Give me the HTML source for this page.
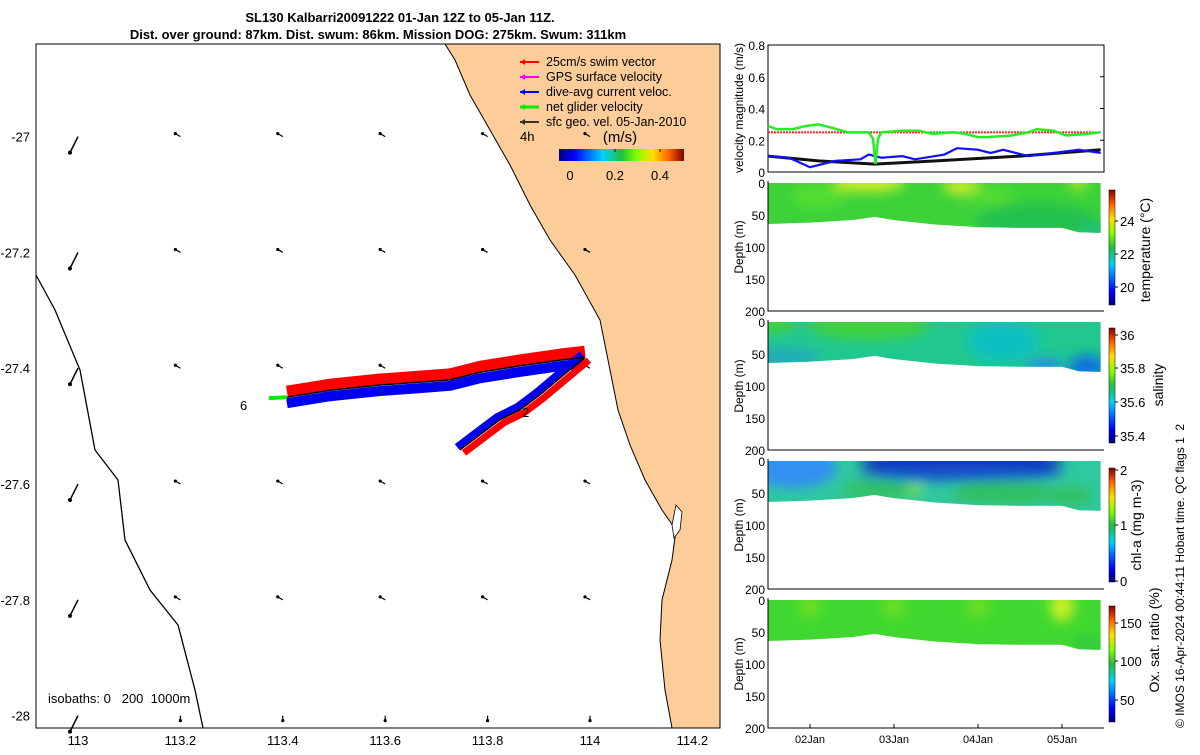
<!DOCTYPE html>
<html><head><meta charset="utf-8"><style>
body{margin:0;background:#fff;}
svg{font-family:"Liberation Sans","DejaVu Sans",sans-serif;}
</style></head><body>
<svg id="s" width="1200" height="750" viewBox="0 0 1200 750" xmlns="http://www.w3.org/2000/svg">
<defs>
<linearGradient id="jet" x1="0" y1="1" x2="0" y2="0">
<stop offset="0" stop-color="#00007f"/><stop offset="0.12" stop-color="#0000ff"/><stop offset="0.35" stop-color="#00d0ff"/><stop offset="0.5" stop-color="#20c040"/><stop offset="0.62" stop-color="#80ff00"/><stop offset="0.75" stop-color="#ffe000"/><stop offset="0.88" stop-color="#ff6000"/><stop offset="1" stop-color="#800000"/>
</linearGradient>
<linearGradient id="jeth" x1="0" y1="0" x2="1" y2="0">
<stop offset="0" stop-color="#00007f"/><stop offset="0.12" stop-color="#0000ff"/><stop offset="0.35" stop-color="#00d0ff"/><stop offset="0.5" stop-color="#20c040"/><stop offset="0.62" stop-color="#80ff00"/><stop offset="0.75" stop-color="#ffe000"/><stop offset="0.88" stop-color="#ff6000"/><stop offset="1" stop-color="#800000"/>
</linearGradient>
<filter id="blur"><feGaussianBlur stdDeviation="6"/></filter>
</defs>
<g id="map"></g>
<g id="vel"></g>
<g id="sec"></g>
<text x="400" y="22" font-size="13" font-weight="bold" text-anchor="middle">SL130 Kalbarri20091222 01-Jan 12Z to 05-Jan 11Z.</text>
<text x="378" y="39" font-size="13" font-weight="bold" text-anchor="middle">Dist. over ground: 87km. Dist. swum: 86km. Mission DOG: 275km. Swum: 311km</text>
</svg>
<script>
// ---- map data ----
const lonTicks=[113,113.2,113.4,113.6,113.8,114,114.2];
const latTicks=[-27,-27.2,-27.4,-27.6,-27.8,-28];
const trackLon=[113.408,113.492,113.590,113.668,113.727,113.785,113.863,113.941,113.990];
const trackLat=[-27.450,-27.438,-27.429,-27.424,-27.420,-27.407,-27.396,-27.386,-27.381];
const returnLon=[113.990,113.941,113.902,113.863,113.824,113.785,113.746];
const returnLat=[-27.381,-27.417,-27.446,-27.472,-27.489,-27.515,-27.541];
// ---- velocity data (days since 01-Jan 12Z) ----
const netT=[0,0.1,0.3,0.45,0.6,0.75,0.95,1.2,1.25,1.28,1.31,1.35,1.6,1.8,1.95,2.2,2.35,2.5,2.6,2.9,3.1,3.2,3.4,3.55,3.8,3.96];
const netV=[0.29,0.27,0.27,0.29,0.30,0.28,0.25,0.25,0.21,0.05,0.21,0.25,0.26,0.26,0.24,0.25,0.24,0.22,0.22,0.23,0.25,0.27,0.26,0.23,0.24,0.25];
const curT=[0,0.25,0.5,0.8,1.1,1.2,1.35,1.6,1.75,2.1,2.25,2.5,2.65,2.8,3.1,3.4,3.7,3.96];
const curV=[0.10,0.09,0.03,0.07,0.08,0.11,0.09,0.10,0.08,0.11,0.15,0.14,0.12,0.14,0.10,0.12,0.14,0.12];
const geoT=[0,0.6,1.27,2,3,3.96];
const geoV=[0.10,0.07,0.05,0.07,0.10,0.14];
const swimV=0.25;
const velTicks=[0,0.2,0.4,0.6,0.8];
// ---- sections ----
const dayTicks=[0.5,1.5,2.5,3.5];
const dayLabels=["02Jan","03Jan","04Jan","05Jan"];
const depthTicks=[0,50,100,150,200];
const profT=[0,0.5,1,1.27,1.5,2,2.5,3,3.5,3.7,3.96];
const profD=[64,62,58,53,58,65,69,70,70,77,78];

const NS="http://www.w3.org/2000/svg";
function mk(p,tag,a,txt){const e=document.createElementNS(NS,tag);for(const k in a)e.setAttribute(k,a[k]);if(txt!==undefined)e.textContent=txt;p.appendChild(e);return e;}
const lonX=l=>36+(l-112.918)*512, latY=l=>44+(-26.84-l)*579;
const map=document.getElementById('map');
let land=mk(map,'path',{d:"M445,44 L455,60 L470,95 L490,130 L510,165 L530,205 L550,240 L575,275 L600,320 L610,370 L618,410 L630,445 L645,480 L662,510 L676,530 L672,560 L662,600 L660,640 L665,690 L672,728 L720,728 L720,44 Z",fill:"#fccc99",stroke:"#000","stroke-width":1});


let isl=mk(map,'path',{d:"M676,505 L682,512 L680,530 L674,538 L672,525 Z",fill:"#fff",stroke:"#000","stroke-width":0.8});


let iso=mk(map,'polyline',{points:"36,275 55,310 80,370 95,450 118,480 125,540 150,590 178,625 195,690 203,728",fill:"none",stroke:"#000","stroke-width":1.3});


let fr=mk(map,'rect',{x:36,y:44,width:684,height:684,fill:"none",stroke:"#000","stroke-width":1});


// vector grid
lonTicks.slice(0,6).forEach((lo,i)=>latTicks.forEach((la,j)=>{
  const x=lonX(lo),y=latY(la);const big=i===0;
  let dx=big?-8:-5,dy=big?16:-3;
  if(j===latTicks.length-1&&!big){dx=0;dy=5;}
  let a=mk(map,'line',{x1:x,y1:y,x2:x+dx,y2:y+dy,stroke:"#000","stroke-width":big?1.5:1.2});
  
  
  mk(map,'circle',{cx:x+dx,cy:y+dy,r:big?2:1.6,fill:"#000"});
}));
function pts(lo,la,ox,oy){return lo.map((v,i)=>(lonX(v)+ox)+","+(latY(la[i])+oy)).join(" ");}
let r1=mk(map,'polyline',{points:pts(trackLon,trackLat,0,-6),fill:"none",stroke:"#ff0000","stroke-width":11,"stroke-linejoin":"round"});


let b1=mk(map,'polyline',{points:pts(trackLon,trackLat,0,6),fill:"none",stroke:"#0000ee","stroke-width":10,"stroke-linejoin":"round"});


let r2=mk(map,'polyline',{points:pts(returnLon,returnLat,4,3),fill:"none",stroke:"#ff0000","stroke-width":7,"stroke-linejoin":"round"});


let b2=mk(map,'polyline',{points:pts(returnLon,returnLat,-3,-3),fill:"none",stroke:"#0000ee","stroke-width":7,"stroke-linejoin":"round"});


let tk=mk(map,'polyline',{points:pts(trackLon,trackLat,0,0),fill:"none",stroke:"#000","stroke-width":1.5});


let tk2=mk(map,'polyline',{points:pts(returnLon,returnLat,0,0),fill:"none",stroke:"#000","stroke-width":1.5});


mk(map,'line',{x1:lonX(trackLon[0]),y1:latY(trackLat[0]),x2:lonX(trackLon[0])-18,y2:latY(trackLat[0])+1,stroke:"#00ee00","stroke-width":4});
mk(map,'text',{x:240,y:410,"font-size":13},"6");
mk(map,'text',{x:522,y:417,"font-size":13},"2");
lonTicks.forEach(l=>{let t=mk(map,'text',{x:lonX(l),y:745,"font-size":13,"text-anchor":"middle"},String(l));});
latTicks.forEach(l=>{let t=mk(map,'text',{x:30,y:latY(l)+5,"font-size":13,"text-anchor":"end"},String(l));});
let isot=mk(map,'text',{x:48,y:703,"font-size":13,style:"white-space:pre"},"isobaths: 0   200  1000m");


const leg=[["#ff0000","25cm/s swim vector"],["#ff00ff","GPS surface velocity"],["#0000ff","dive-avg current veloc."],["#00ee00","net glider velocity"],["#333","sfc geo. vel. 05-Jan-2010"]];
leg.forEach((L,i)=>{const y=62+i*15;
  let l=mk(map,'line',{x1:520,y1:y,x2:539,y2:y,stroke:L[0],"stroke-width":i==3?3:2});
  
  mk(map,'path',{d:`M520,${y} l5,-3 l0,6 z`,fill:L[0]});
  let t=mk(map,'text',{x:546,y:y+4,"font-size":12.5},L[1]);
});
mk(map,'text',{x:520,y:141,"font-size":13},"4h");
mk(map,'text',{x:620,y:142,"font-size":15,"text-anchor":"middle"},"(m/s)");
let cbh=mk(map,'rect',{x:559,y:149,width:125,height:12,fill:"url(#jeth)"});

[[0,570],[0.2,615],[0.4,660]].forEach(a=>{mk(map,'line',{x1:a[1],y1:149,x2:a[1],y2:152,stroke:"#000"});mk(map,'text',{x:a[1],y:180,"font-size":13,"text-anchor":"middle"},String(a[0]));});

// ---- velocity panel ----
const X0=768,X1=1104;const dX=d=>X0+d*84;
const vel=document.getElementById('vel');
const vY=v=>172-v*158.75;
mk(vel,'rect',{x:X0,y:45,width:X1-X0,height:127,fill:"#fff",stroke:"#000"});
velTicks.forEach(v=>{mk(vel,'text',{x:765,y:vY(v)+5,"font-size":12,"text-anchor":"end"},String(v));mk(vel,'line',{x1:X1-4,y1:vY(v),x2:X1,y2:vY(v),stroke:"#000"});});
let vt=mk(vel,'text',{transform:"translate(743,108) rotate(-90)","font-size":12,"text-anchor":"middle"},"velocity magnitude (m/s)");

function line(p,T,V,col,w,name,dash){let e=mk(p,'polyline',{points:T.map((t,i)=>dX(t)+","+vY(V[i])).join(" "),fill:"none",stroke:col,"stroke-width":w});if(dash)e.setAttribute('stroke-dasharray',dash);return e;}
line(vel,[0,3.96],[swimV,swimV],"#ff2020",2,"swim-speed-line","2,1");
line(vel,geoT,geoV,"#111",3,"geo-velocity-line");
line(vel,curT,curV,"#1010ff",2.2,"current-velocity-line");
line(vel,netT,netV,"#22ee22",2.5,"net-velocity-line");

// ---- sections ----
const sec=document.getElementById('sec');
const panels=[
 {top:183,name:"temperature",label:"temperature (°C)",lx:1150,ly:250,cb:[190,305],ticks:[[24,221],[22,254],[20,287]],
  base:"#3dd23a",blobs:[["#d8f020",[[1.2,0,40,10],[2.3,5,20,8]]],["#d8f020",[[3.7,0,8,5]]],["#20c050",[[3.2,60,70,25]]],["#22c080",[[3.9,75,18,10]]],["#55dd30",[[0.6,20,30,15],[2.6,20,30,10]]]]},
 {top:322,name:"salinity",label:"salinity",lx:1163,ly:385,cb:[328,443],ticks:[["36",335],["35.8",368],["35.6",402],["35.4",436]],
  base:"#20c890",blobs:[["#40d040",[[1.2,5,70,20],[0.1,0,20,15]]],["#10c0c0",[[2.8,30,40,30]]],["#1070e0",[[3.8,70,20,15]]],["#2090e0",[[3.3,70,20,10]]],["#20a8c0",[[0.2,55,40,10]]]]},
 {top:461,name:"chl-a",label:"chl-a (mg m-3)",lx:1141,ly:525,cb:[468,582],ticks:[["2",470],["1",525],["0",581]],
  base:"#30c8a0",blobs:[["#3090f0",[[0.3,10,50,30]]],["#1030b0",[[2.3,0,120,15]]],["#1850d0",[[2.3,18,120,10]]],["#30c060",[[1.3,45,40,12],[2.8,50,60,15],[3.6,55,25,12]]],["#90e030",[[1.75,45,6,5]]]]},
 {top:600,name:"oxygen",label:"Ox. sat. ratio (%)",lx:1159,ly:640,cb:[606,722],ticks:[["150",623],["100",661],["50",700]],
  base:"#40d830",blobs:[["#70e020",[[0.5,10,10,14],[1.5,10,10,14],[2.5,10,10,14]]],["#c8f020",[[3.5,10,12,20]]],["#30c840",[[3.8,70,15,10]]]]}
];
panels.forEach((P,pi)=>{
  const dY=d=>P.top+d*0.64;
  const g=mk(sec,'g',{});
  
  
  const cid="clip"+pi;
  const cp=mk(document.querySelector('defs'),'clipPath',{id:cid});
  let d="M"+dX(0)+","+P.top+" L"+dX(3.96)+","+P.top+" ";
  for(let i=profT.length-1;i>=0;i--)d+="L"+dX(profT[i])+","+dY(profD[i])+" ";
  d+="Z";
  mk(cp,'path',{d:d});
  const gg=mk(g,'g',{"clip-path":`url(#${cid})`});
  mk(gg,'rect',{x:X0-4,y:P.top-3,width:X1-X0+8,height:130,fill:P.base});
  const bg=mk(gg,'g',{filter:"url(#blur)"});
  P.blobs.forEach(b=>b[1].forEach(e=>mk(bg,'ellipse',{cx:dX(e[0]),cy:dY(e[1]),rx:e[2]*0.84+2,ry:e[3]*0.64+2,fill:b[0]})));
  mk(g,'path',{d:`M${X0},${P.top-2} L${X0},${P.top+128} L${X1},${P.top+128}`,fill:"none",stroke:"#000"});
  depthTicks.forEach(t=>{let tl=mk(g,'text',{x:765,y:dY(t)+5,"font-size":12,"text-anchor":"end"},String(t));});
  let yt=mk(g,'text',{transform:`translate(743,${P.top+64}) rotate(-90)`,"font-size":12,"text-anchor":"middle"},"Depth (m)");
  
  let cb=mk(g,'rect',{x:1109,y:P.cb[0],width:6,height:P.cb[1]-P.cb[0],fill:"url(#jet)",stroke:"#000","stroke-width":0.5});
  
  P.ticks.forEach(t=>{mk(g,'line',{x1:1115,y1:t[1],x2:1118,y2:t[1],stroke:"#000"});mk(g,'text',{x:1120,y:t[1]+5,"font-size":13},String(t[0]));});
  let cl=mk(g,'text',{transform:`translate(${P.lx},${P.ly}) rotate(-90)`,"font-size":14,"text-anchor":"middle"},P.label);
  
});
dayTicks.forEach((d,i)=>{mk(sec,'line',{x1:dX(d),y1:728,x2:dX(d),y2:724,stroke:"#000"});let t=mk(sec,'text',{x:dX(d),y:743,"font-size":11,"text-anchor":"middle"},dayLabels[i]);});
let im=mk(sec,'text',{transform:"translate(1184,728) rotate(-90)","font-size":12,style:"white-space:pre"},"© IMOS 16-Apr-2024 00:44:11 Hobart time. QC flags 1  2");

</script>
</body></html>
